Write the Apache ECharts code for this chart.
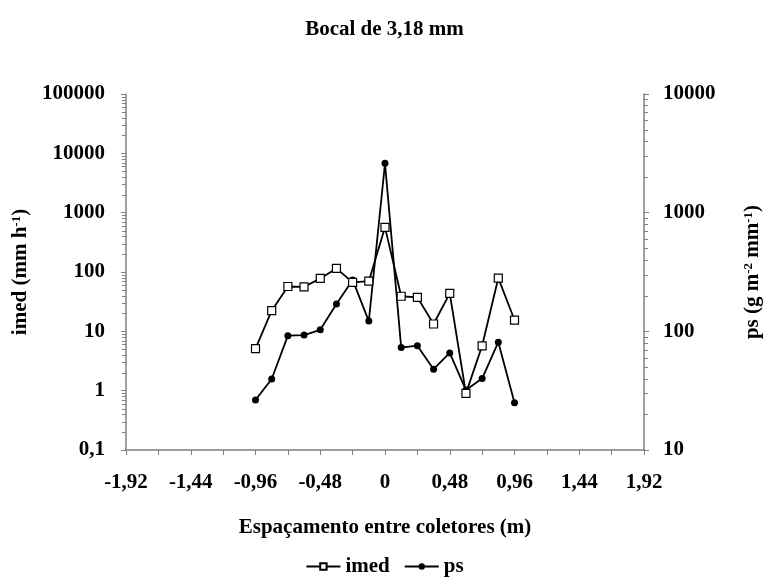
<!DOCTYPE html>
<html>
<head>
<meta charset="utf-8">
<script src="https://cdn.jsdelivr.net/npm/echarts@6/dist/echarts.min.js"></script>
<style>html,body{margin:0;padding:0;background:#fff}#c{width:769px;height:586px}</style>
</head>
<body>
<div id="c"></div>
<script>
const xValues = [-0.96,-0.84,-0.72,-0.60,-0.48,-0.36,-0.24,-0.12,0,0.12,0.24,0.36,0.48,0.60,0.72,0.84,0.96];
const imed = [5.1, 22.3, 57, 56, 78, 115, 67, 70, 566, 39, 37.4, 13.3, 43.7, 0.9, 5.7, 79, 15.5];
const ps = [26.4, 39.7, 92, 93, 103, 170, 271, 122, 2606, 73, 75.7, 48, 65.7, 32, 40, 81, 25];
const leftDecades = [0.1, 1, 10, 100, 1000, 10000];
const rightDecades = [10, 100, 1000];
const minorMultipliers = [2,3,4,5,6,7,8,9];

const FONT = '"Liberation Serif", "Times New Roman", serif';
const FS = 21;
const AX = '#808080';

function minorList(decades){
  const out = [];
  decades.forEach(d => minorMultipliers.forEach(m => out.push([0, +(d*m).toPrecision(6)])));
  return out;
}
function commaFmt(v){
  return String(+(+v).toFixed(2)).replace('.', ',');
}

const chart = echarts.init(document.getElementById('c'));
const tickSeries = (axisIdx, side) => ({
  type: 'custom',
  silent: true,
  xAxisIndex: 0,
  yAxisIndex: axisIdx,
  data: minorList(axisIdx === 0 ? leftDecades : rightDecades),
  renderItem: function(params, api){
    const y = api.coord([0, api.value(1)])[1];
    const cs = params.coordSys;
    const x0 = side === 'left' ? cs.x : cs.x + cs.width;
    const dx = side === 'left' ? -4 : 4;
    return {type:'line', shape:{x1:x0, y1:Math.round(y)+0.5, x2:x0+dx, y2:Math.round(y)+0.5}, style:{stroke:AX, lineWidth:1}};
  },
  z: 1
});
const textBase = {fontFamily: FONT, fontSize: FS, fontWeight: 'bold', color: '#000'};
const supStyle = {fontFamily: FONT, fontSize: 13, fontWeight: 'bold', color: '#000', verticalAlign: 'top', padding: [0,0,8,0]};

chart.setOption({
  animation: false,
  backgroundColor: '#fff',
  title: {
    text: 'Bocal de 3,18 mm',
    left: 'center',
    top: 14,
    textStyle: textBase
  },
  grid: {left: 126, right: 125, top: 94, bottom: 136, containLabel: false, outerBoundsMode: 'none'},
  legend: {
    data: ['imed', 'ps'],
    left: 'center',
    top: 551,
    itemWidth: 34,
    itemHeight: 8,
    itemGap: 14,
    textStyle: textBase
  },
  xAxis: {
    type: 'value',
    min: -1.92,
    max: 1.92,
    interval: 0.24,
    name: 'Espaçamento entre coletores (m)',
    nameLocation: 'middle',
    nameGap: 67,
    nameTextStyle: textBase,
    axisLine: {onZero: false, lineStyle: {color: AX, width: 1.5}},
    axisTick: {show: true, length: 5, lineStyle: {color: AX}},
    splitLine: {show: false},
    axisLabel: Object.assign({
      margin: 22,
      formatter: function(v){
        const k = Math.round(v / 0.24);
        if (k % 2 !== 0) return '';
        return commaFmt(v);
      }
    }, textBase)
  },
  yAxis: [
    {
      type: 'log',
      logBase: 10,
      min: 0.1,
      max: 100000,
      splitNumber: 6,
      position: 'left',
      name: '{a|imed (mm h}{s|-1}{a|)}',
      nameLocation: 'middle',
      nameRotate: 90,
      nameGap: 95,
      nameTextStyle: {rich: {a: textBase, s: supStyle}},
      axisLine: {show: true, onZero: false, lineStyle: {color: AX, width: 1.5}},
      axisTick: {show: true, length: 5, lineStyle: {color: AX}},
      splitLine: {show: false},
      axisLabel: Object.assign({margin: 21, formatter: commaFmt}, textBase)
    },
    {
      type: 'log',
      logBase: 10,
      min: 10,
      max: 10000,
      splitNumber: 3,
      position: 'right',
      name: '{a|ps (g m}{s|-2}{a| mm}{s|-1}{a|)}',
      nameLocation: 'middle',
      nameRotate: 90,
      nameGap: 98,
      nameTextStyle: {rich: {a: textBase, s: supStyle}},
      axisLine: {show: true, onZero: false, lineStyle: {color: AX, width: 1.5}},
      axisTick: {show: true, length: 5, lineStyle: {color: AX}},
      splitLine: {show: false},
      axisLabel: Object.assign({margin: 19, formatter: commaFmt}, textBase)
    }
  ],
  series: [
    {
      name: 'ps',
      type: 'line',
      yAxisIndex: 1,
      data: xValues.map((x, i) => [x, ps[i]]),
      symbol: 'circle',
      symbolSize: 7,
      itemStyle: {color: '#000'},
      lineStyle: {color: '#000', width: 1.8},
      z: 3
    },
    {
      name: 'imed',
      type: 'line',
      yAxisIndex: 0,
      data: xValues.map((x, i) => [x, imed[i]]),
      symbol: 'rect',
      symbolSize: 8,
      itemStyle: {color: '#fff', borderColor: '#000', borderWidth: 1.2},
      lineStyle: {color: '#000', width: 1.8},
      z: 4
    },
    tickSeries(0, 'left'),
    tickSeries(1, 'right')
  ]
});
</script>
</body>
</html>
